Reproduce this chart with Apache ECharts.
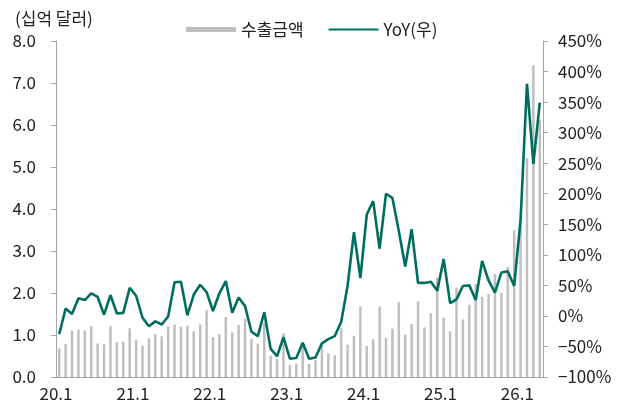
<!DOCTYPE html>
<html>
<head>
<meta charset="utf-8">
<script src="https://cdn.jsdelivr.net/npm/echarts@6/dist/echarts.min.js"></script>
<style>
  html, body { margin: 0; padding: 0; background: #fff; }
  #chart { width: 618px; height: 411px; }
</style>
</head>
<body>
<div id="chart"></div>
<script>
// 월별 카테고리 (20.1 ~ 26.4)
const years = [20, 21, 22, 23, 24, 25, 26];
const months = [];
years.forEach(y => {
  const n = y === 26 ? 4 : 12;
  for (let m = 1; m <= n; m++) months.push(y + '.' + m);
});

// 수출금액 (십억 달러)
const exportAmt = [
  0.68, 0.78, 1.11, 1.13, 1.11, 1.21, 0.80, 0.78, 1.21, 0.83, 0.84, 1.16,
  0.89, 0.75, 0.92, 1.02, 0.97, 1.21, 1.25, 1.20, 1.22, 1.09, 1.25, 1.59,
  0.95, 1.02, 1.43, 1.06, 1.24, 1.39, 0.91, 0.79, 1.29, 0.51, 0.42, 1.04,
  0.28, 0.32, 0.75, 0.31, 0.40, 0.75, 0.56, 0.52, 1.16, 0.77, 0.98, 1.68,
  0.74, 0.90, 1.68, 0.93, 1.15, 1.78, 1.01, 1.26, 1.80, 1.18, 1.52, 2.36,
  1.41, 1.09, 2.13, 1.37, 1.72, 2.21, 1.91, 1.98, 2.45, 2.00, 2.62, 3.49,
  3.65, 5.21, 7.42, 6.13
];

// YoY (%)
const yoy = [
  -30, 12, 3, 29, 26, 37, 31, 2, 34, 4, 5, 46,
  33, -3, -17, -9, -14, -1, 55, 56, 1, 35, 51, 39,
  8, 37, 57, 5, 30, 16, -26, -33, 6, -54, -66, -35,
  -70, -69, -44, -70, -68, -45, -38, -33, -10, 49, 137, 62,
  166, 188, 110, 200, 193, 139, 81, 142, 54, 54, 56, 41,
  93, 21, 27, 49, 50, 26, 90, 58, 38, 71, 73, 49,
  157, 380, 249, 349
];

const FONT = 'Noto Sans CJK KR';
const TXT = '#222';
const AXIS_GRAY = '#a6a6a6';
const LINE_COLOR = '#006e5f';

const chart = echarts.init(document.getElementById('chart'));
chart.setOption({
  animation: false,
  textStyle: { fontFamily: FONT },
  title: {
    text: '(십억 달러)',
    left: 10, top: 5,
    textStyle: { fontFamily: FONT, fontSize: 17, fontWeight: 'normal', color: TXT }
  },
  legend: {
    left: 181, top: 16,
    itemWidth: 50, itemHeight: 5,
    itemGap: 25,
    textStyle: { fontFamily: FONT, fontSize: 17, color: TXT },
    data: [
      { name: '수출금액', icon: 'rect' },
      { name: 'YoY(우)', icon: 'path://M0,0L50,0L50,2L0,2Z', itemStyle: { color: LINE_COLOR } }
    ]
  },
  grid: { left: 56, right: 75, top: 41, bottom: 34 },
  xAxis: {
    type: 'category',
    data: months,
    axisLine: { lineStyle: { color: AXIS_GRAY, width: 1 } },
    axisTick: {
      interval: i => i % 12 === 0,
      length: 5,
      lineStyle: { color: AXIS_GRAY }
    },
    axisLabel: {
      interval: i => i % 12 === 0,
      fontFamily: FONT, fontSize: 17, color: TXT,
      margin: 8,
      padding: [0, 6.4, 0, 0]
    }
  },
  yAxis: [
    {
      type: 'value',
      min: 0, max: 8, interval: 1,
      splitLine: { show: false },
      axisLine: { show: true, lineStyle: { color: AXIS_GRAY } },
      axisTick: { show: true, length: 5, lineStyle: { color: AXIS_GRAY } },
      axisLabel: {
        fontFamily: FONT, fontSize: 17, color: TXT, margin: 20,
        formatter: v => v.toFixed(1)
      }
    },
    {
      type: 'value',
      min: -100, max: 450, interval: 50,
      splitLine: { show: false },
      axisLine: { show: true, lineStyle: { color: AXIS_GRAY } },
      axisTick: { show: true, length: 5, lineStyle: { color: AXIS_GRAY } },
      axisLabel: {
        fontFamily: FONT, fontSize: 17, color: TXT, margin: 15,
        formatter: v => String(v).replace('-', '\u2212') + '%'
      }
    }
  ],
  series: [
    {
      name: '수출금액',
      type: 'bar',
      data: exportAmt,
      barWidth: 2.5,
      itemStyle: { color: '#bfbfbf' }
    },
    {
      name: 'YoY(우)',
      type: 'line',
      yAxisIndex: 1,
      data: yoy,
      symbol: 'none',
      lineStyle: { color: LINE_COLOR, width: 2.6 },
      itemStyle: { color: LINE_COLOR }
    }
  ]
});
</script>
</body>
</html>
